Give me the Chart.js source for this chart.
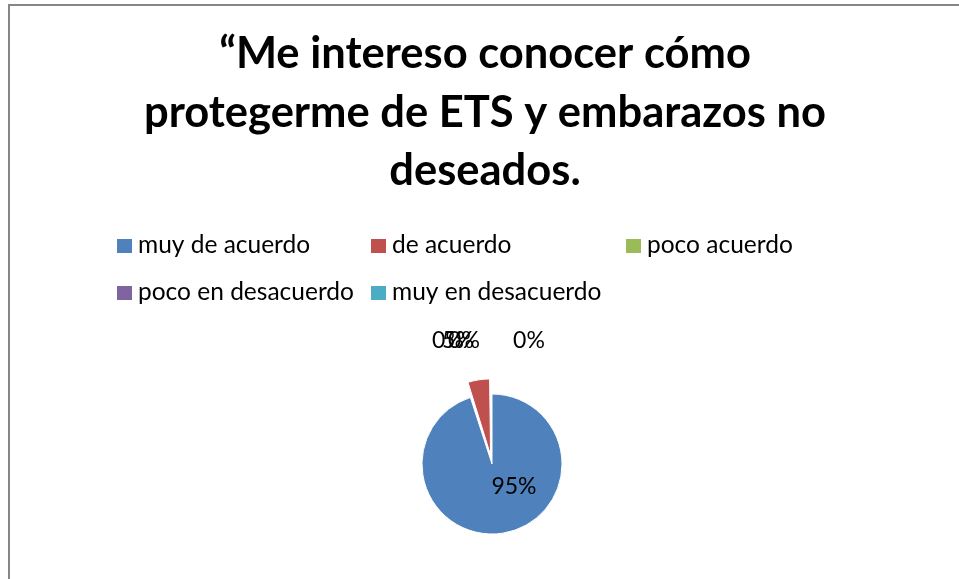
<!DOCTYPE html>
<html>
<head>
<meta charset="utf-8">
<script src="https://cdn.jsdelivr.net/npm/chart.js@4.4.1/dist/chart.umd.min.js"></script>
<style>
  html, body { margin: 0; padding: 0; background: #fff; }
  #wrap { width: 959px; height: 579px; }
</style>
</head>
<body>
<div id="wrap"><canvas id="myChart" width="959" height="579"></canvas></div>
<script>
// datos
const categorias = ['muy de acuerdo', 'de acuerdo', 'poco acuerdo', 'poco en desacuerdo', 'muy en desacuerdo'];
const valores = [95, 5, 0, 0, 0];
const etiquetas = ['95%', '5%', '0%', '0%', '0%'];
const colores = ['#4F81BD', '#C0504D', '#9BBB59', '#8064A2', '#4BACC6'];
const titulo = ['\u201CMe intereso conocer c\u00F3mo', 'protegerme de ETS y embarazos no', 'deseados.'];

const FUENTE = 'Lato, "Open Sans", sans-serif';

// marco gris del grafico (como en Excel)
const marco = {
    id: 'marco',
    beforeDraw(chart) {
        const ctx = chart.ctx;
        ctx.save();
        ctx.fillStyle = '#868686';
        ctx.fillRect(8, 4, chart.width, 2);
        ctx.fillRect(8, 4, 2, chart.height);
        ctx.restore();
    }
};

// el titulo va centrado en el marco, no en el area del pastel
const centrarTitulo = {
    id: 'centrarTitulo',
    afterLayout(chart) {
        chart.titleBlock.left = 11;
        chart.titleBlock.right = chart.width;
    }
};

// leyenda en columnas fijas
const leyenda = {
    id: 'leyenda',
    afterDraw(chart) {
        const ctx = chart.ctx;
        const cols = [117, 371, 626];
        const filas = [239, 286];
        ctx.save();
        ctx.font = '24.5px ' + FUENTE;
        ctx.textAlign = 'left';
        ctx.textBaseline = 'alphabetic';
        chart.data.labels.forEach((lab, i) => {
            const x = cols[i % 3];
            const y = filas[Math.floor(i / 3)];
            ctx.fillStyle = chart.data.datasets[0].backgroundColor[i];
            ctx.fillRect(x, y, 15, 14);
            ctx.fillStyle = '#000';
            ctx.fillText(lab, x + 21, y + 14);
        });
        ctx.restore();
    }
};

// etiquetas de porcentaje
const porcentajes = {
    id: 'porcentajes',
    afterDatasetsDraw(chart) {
        const ctx = chart.ctx;
        const meta = chart.getDatasetMeta(0);
        // desplazamientos respecto al centro del pastel
        const desp = [[22, 30], [-34, -116], [-44, -116], [-28, -116], [37, -116]];
        ctx.save();
        ctx.font = '23px ' + FUENTE;
        ctx.fillStyle = '#000';
        ctx.textAlign = 'center';
        ctx.textBaseline = 'alphabetic';
        meta.data.forEach((arc, i) => {
            const p = arc.getProps(['x', 'y'], true);
            ctx.fillText(etiquetas[i], p.x + desp[i][0], p.y + desp[i][1]);
        });
        ctx.restore();
    }
};

const ctx = document.getElementById('myChart').getContext('2d');
const chart = new Chart(ctx, {
    type: 'pie',
    data: {
        labels: categorias,
        datasets: [{
            data: valores,
            backgroundColor: colores,
            borderColor: '#fff',
            borderWidth: 1,
            offset: [0, 36, 0, 0, 0]
        }]
    },
    options: {
        responsive: false,
        animation: false,
        events: [],
        radius: 70,
        layout: { padding: { left: 25, right: 0, top: 0, bottom: 31 } },
        plugins: {
            legend: { display: false },
            tooltip: { enabled: false },
            title: {
                display: true,
                text: titulo,
                color: '#000',
                font: { family: FUENTE, size: 43.5, weight: 'bold', lineHeight: 1.345 },
                padding: { top: 25, bottom: 179.5 }
            }
        }
    },
    plugins: [marco, centrarTitulo, leyenda, porcentajes]
});
</script>
</body>
</html>
